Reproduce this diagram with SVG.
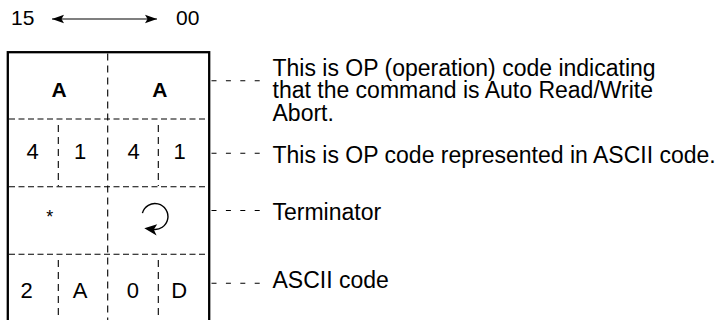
<svg xmlns="http://www.w3.org/2000/svg" width="723" height="320" viewBox="0 0 723 320">
<style>
  .t { font-family: "Liberation Sans", Arial, Helvetica, sans-serif; fill: #000; }
  .lbl { font-size: 23px; }
  .cell { font-size: 22px; text-anchor: middle; }
  .bold { font-weight: bold; font-size: 21px; text-anchor: middle; }
  .frame { fill: none; stroke: #000; stroke-width: 2.3; }
  .div { stroke: #000; stroke-width: 1.1; stroke-dasharray: 6 3.5; fill: none; }
  .vdiv { stroke: #000; stroke-width: 1.1; stroke-dasharray: 7 5; fill: none; }
  .leader { stroke: #000; stroke-width: 1.1; stroke-dasharray: 5 9.4; fill: none; }
</style>
<defs>
  <marker id="ah" markerWidth="14" markerHeight="10" refX="12" refY="5" orient="auto-start-reverse" markerUnits="userSpaceOnUse">
    <path d="M0,0.8 L12,5 L0,9.2 L2.5,5 Z" fill="#000"/>
  </marker>
</defs>

<g id="header">
  <text class="t" x="11" y="25" font-size="21">15</text>
  <text class="t" x="176" y="25" font-size="21">00</text>
  <line x1="52" y1="19" x2="157" y2="19" stroke="#000" stroke-width="1.2" marker-start="url(#ah)" marker-end="url(#ah)"/>
</g>

<g id="frame">
  <rect class="frame" x="7.8" y="52.2" width="201.4" height="290"/>
  <line class="div" x1="9" y1="119" x2="208" y2="119"/>
  <line class="div" x1="9" y1="186.7" x2="208" y2="186.7"/>
  <line class="div" x1="9" y1="254.3" x2="208" y2="254.3"/>
  <line class="vdiv" x1="107.7" y1="53.5" x2="107.7" y2="320"/>
  <line class="vdiv" x1="58.3" y1="125" x2="58.3" y2="186"/>
  <line class="vdiv" x1="158.3" y1="125" x2="158.3" y2="186"/>
  <line class="vdiv" x1="58.3" y1="260" x2="58.3" y2="320"/>
  <line class="vdiv" x1="158.3" y1="260" x2="158.3" y2="320"/>
</g>

<g id="row-op">
  <text class="t bold" x="59.2" y="96.7">A</text>
  <text class="t bold" x="159.8" y="96.7">A</text>
</g>

<g id="row-ascii-op">
  <text class="t cell" x="32.5" y="159.3">4</text>
  <text class="t cell" x="80" y="159.3">1</text>
  <text class="t cell" x="133.5" y="159.3">4</text>
  <text class="t cell" x="179.5" y="159.3">1</text>
</g>

<g id="row-terminator">
  <text class="t" x="49.7" y="223" font-size="18" text-anchor="middle">*</text>
  <path d="M142.4,213.1 A13,13 0 1 1 152.7,229.3" fill="none" stroke="#000" stroke-width="1.4"/>
  <path d="M144.3,228.2 L157.2,224.3 L153.8,229.6 L156.6,235.6 Z" fill="#000"/>
</g>

<g id="row-ascii">
  <text class="t cell" x="26.7" y="298.3">2</text>
  <text class="t cell" x="80" y="298.3">A</text>
  <text class="t cell" x="132.8" y="298.3">0</text>
  <text class="t cell" x="179.2" y="298.3">D</text>
</g>

<g id="connectors">
  <line class="leader" x1="211.5" y1="80.7" x2="261" y2="80.7"/>
  <line class="leader" x1="211.5" y1="153.3" x2="261" y2="153.3"/>
  <line class="leader" x1="211.5" y1="210.5" x2="261" y2="210.5"/>
  <line class="leader" x1="211.5" y1="283.3" x2="261" y2="283.3"/>
</g>

<g id="label-op">
  <text class="t lbl" x="272.5" y="75.5">This is OP (operation) code indicating</text>
  <text class="t lbl" x="272.5" y="98">that the command is Auto Read/Write</text>
  <text class="t lbl" x="272.5" y="120.5">Abort.</text>
</g>
<g id="label-ascii-op">
  <text class="t lbl" x="272.5" y="163">This is OP code represented in ASCII code.</text>
</g>
<g id="label-terminator">
  <text class="t lbl" x="272.5" y="220">Terminator</text>
</g>
<g id="label-ascii">
  <text class="t lbl" x="272.5" y="288">ASCII code</text>
</g>
</svg>
